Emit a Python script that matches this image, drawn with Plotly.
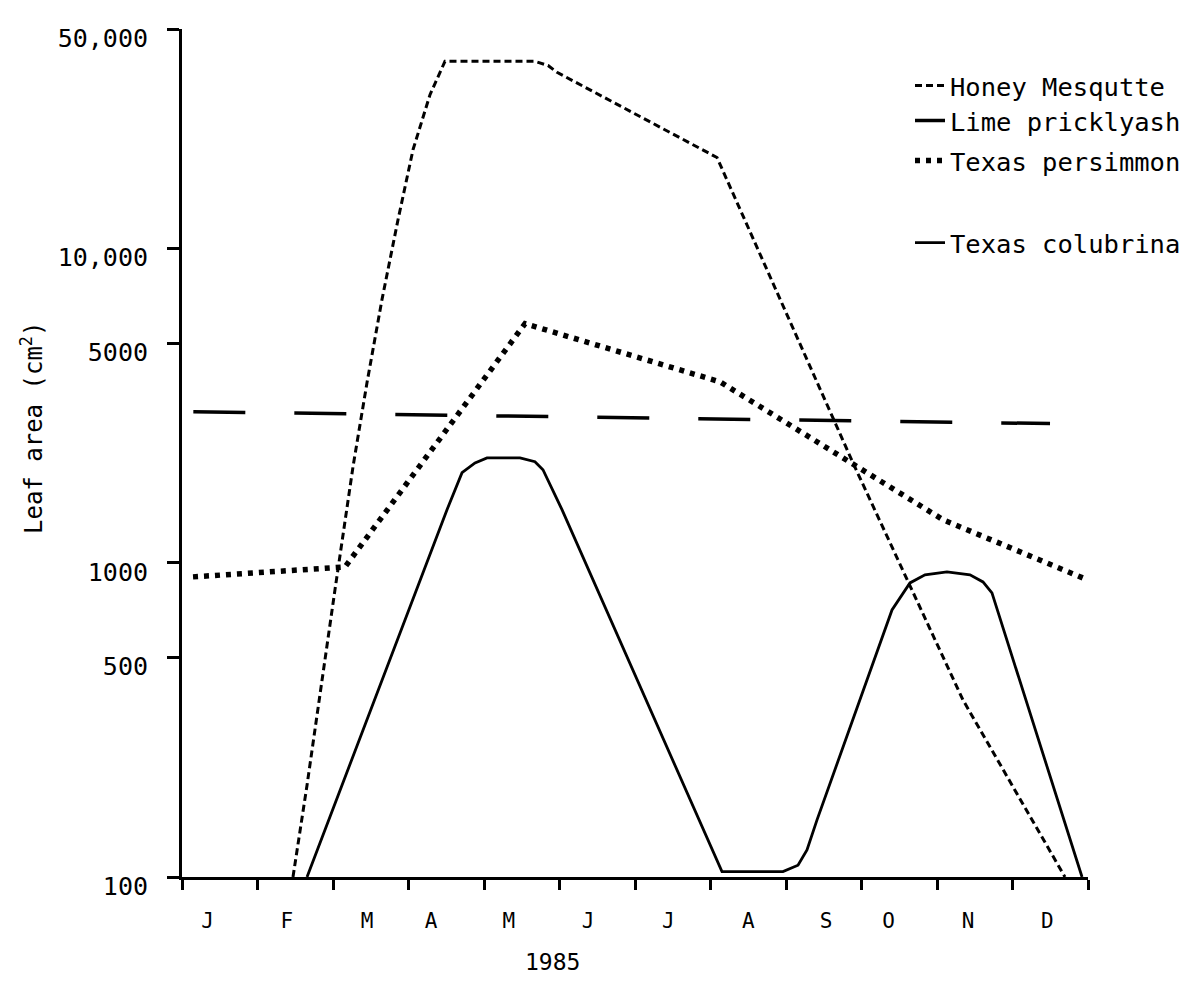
import plotly.graph_objects as go

# ---- axis labels ----
months = ["J", "F", "M", "A", "M", "J", "J", "A", "S", "O", "N", "D"]
month_label_pos = [0.34, 1.39, 2.45, 3.30, 4.33, 5.38, 6.44, 7.50, 8.53, 9.36, 10.41, 11.46]
month_ticks = list(range(13))
y_tick_vals = [100, 500, 1000, 5000, 10000, 50000]
y_tick_text = ["100", "500", "1000", "5000", "10,000", "50,000"]

# ---- series (x in months from 1 Jan, y = leaf area cm^2) ----
mesquite_x = [1.47, 1.656, 2.026, 2.265, 2.45, 2.649, 2.861, 3.06, 3.285, 3.483,
              4.675, 4.848, 4.967, 7.086, 8.887, 10.344, 11.695]
mesquite_y = [100, 196, 820, 2023, 3741, 6887, 12360, 20650, 30900, 39450,
              39450, 38280, 36400, 19500, 2080, 366, 100]

lime_x = [0.15, 11.497]
lime_y = [3027, 2774]

persimmon_x = [0.146, 2.159, 4.543, 7.126, 10.08, 11.99]
persimmon_y = [902, 970, 5770, 3767, 1371, 883]

colubrina_x = [1.656, 3.51, 3.709, 3.881, 4.04, 4.477, 4.675, 4.781, 5.033, 7.152,
               7.96, 8.159, 8.278, 8.411, 9.404, 9.642, 9.841, 10.132, 10.437,
               10.609, 10.728, 11.921]
colubrina_y = [100, 1476, 1936, 2080, 2158, 2158, 2098, 1978, 1476, 104,
               104, 109, 122, 152, 708, 863, 916, 935, 916,
               869, 802, 100]

FONT = "DejaVu Sans Mono"
BLACK = "#000000"

fig = go.Figure()
fig.add_trace(go.Scatter(x=mesquite_x, y=mesquite_y, mode="lines", name="Honey Mesqutte",
                         line=dict(color=BLACK, width=3, dash="7px,4px"), legend="legend"))
fig.add_trace(go.Scatter(x=lime_x, y=lime_y, mode="lines", name="Lime pricklyash",
                         line=dict(color=BLACK, width=3.5, dash="52px,49px"), legend="legend2"))
fig.add_trace(go.Scatter(x=persimmon_x, y=persimmon_y, mode="lines", name="Texas persimmon",
                         line=dict(color=BLACK, width=5.5, dash="5px,6px"), legend="legend3"))
fig.add_trace(go.Scatter(x=colubrina_x, y=colubrina_y, mode="lines", name="Texas colubrina",
                         line=dict(color=BLACK, width=2.8), legend="legend4"))

def leg(ypix):
    return dict(x=(910 - 182) / 906, xanchor="left", y=1 - (ypix - 29) / 848, yanchor="middle",
                font=dict(family=FONT, size=25.5, color=BLACK), bgcolor="rgba(0,0,0,0)",
                borderwidth=0)

fig.update_layout(
    width=1195, height=980,
    margin=dict(l=174, r=115, t=21, b=111),
    paper_bgcolor="white", plot_bgcolor="white",
    showlegend=True,
    legend=leg(86), legend2=leg(121), legend3=leg(161), legend4=leg(243),
    font=dict(family=FONT, color=BLACK),
    xaxis=dict(range=[0, 12], showgrid=False, zeroline=False,
               showline=True, linewidth=3, linecolor=BLACK,
               tickmode="array", tickvals=month_label_pos, ticktext=months,
               ticks="", ticklabelstandoff=23,
               tickfont=dict(family=FONT, size=21, color=BLACK),
               minor=dict(tickmode="array", tickvals=month_ticks, ticks="outside",
                          ticklen=10, tickwidth=2.5, tickcolor=BLACK, showgrid=False)),
    yaxis=dict(type="log", range=[2, 4.69897], showgrid=False, zeroline=False,
               showline=True, linewidth=3, linecolor=BLACK,
               tickmode="array", tickvals=y_tick_vals, ticktext=y_tick_text,
               ticks="outside", ticklen=12, tickwidth=2.5, tickcolor=BLACK,
               ticklabelstandoff=14, ticklabelshift=9,
               tickfont=dict(family=FONT, size=25, color=BLACK)),
)

fig.add_annotation(text="Leaf area (cm<sup>2</sup>)", textangle=-90,
                   xref="paper", yref="paper", x=(32 - 182) / 906, y=1 - (428 - 29) / 848,
                   xanchor="center", yanchor="middle", showarrow=False,
                   font=dict(family=FONT, size=24, color=BLACK))
fig.add_annotation(text="1985", xref="paper", yref="paper",
                   x=(552 - 182) / 906, y=-(962 - 877) / 848,
                   xanchor="center", yanchor="middle", showarrow=False,
                   font=dict(family=FONT, size=23, color=BLACK))

fig.write_html("out.html")
